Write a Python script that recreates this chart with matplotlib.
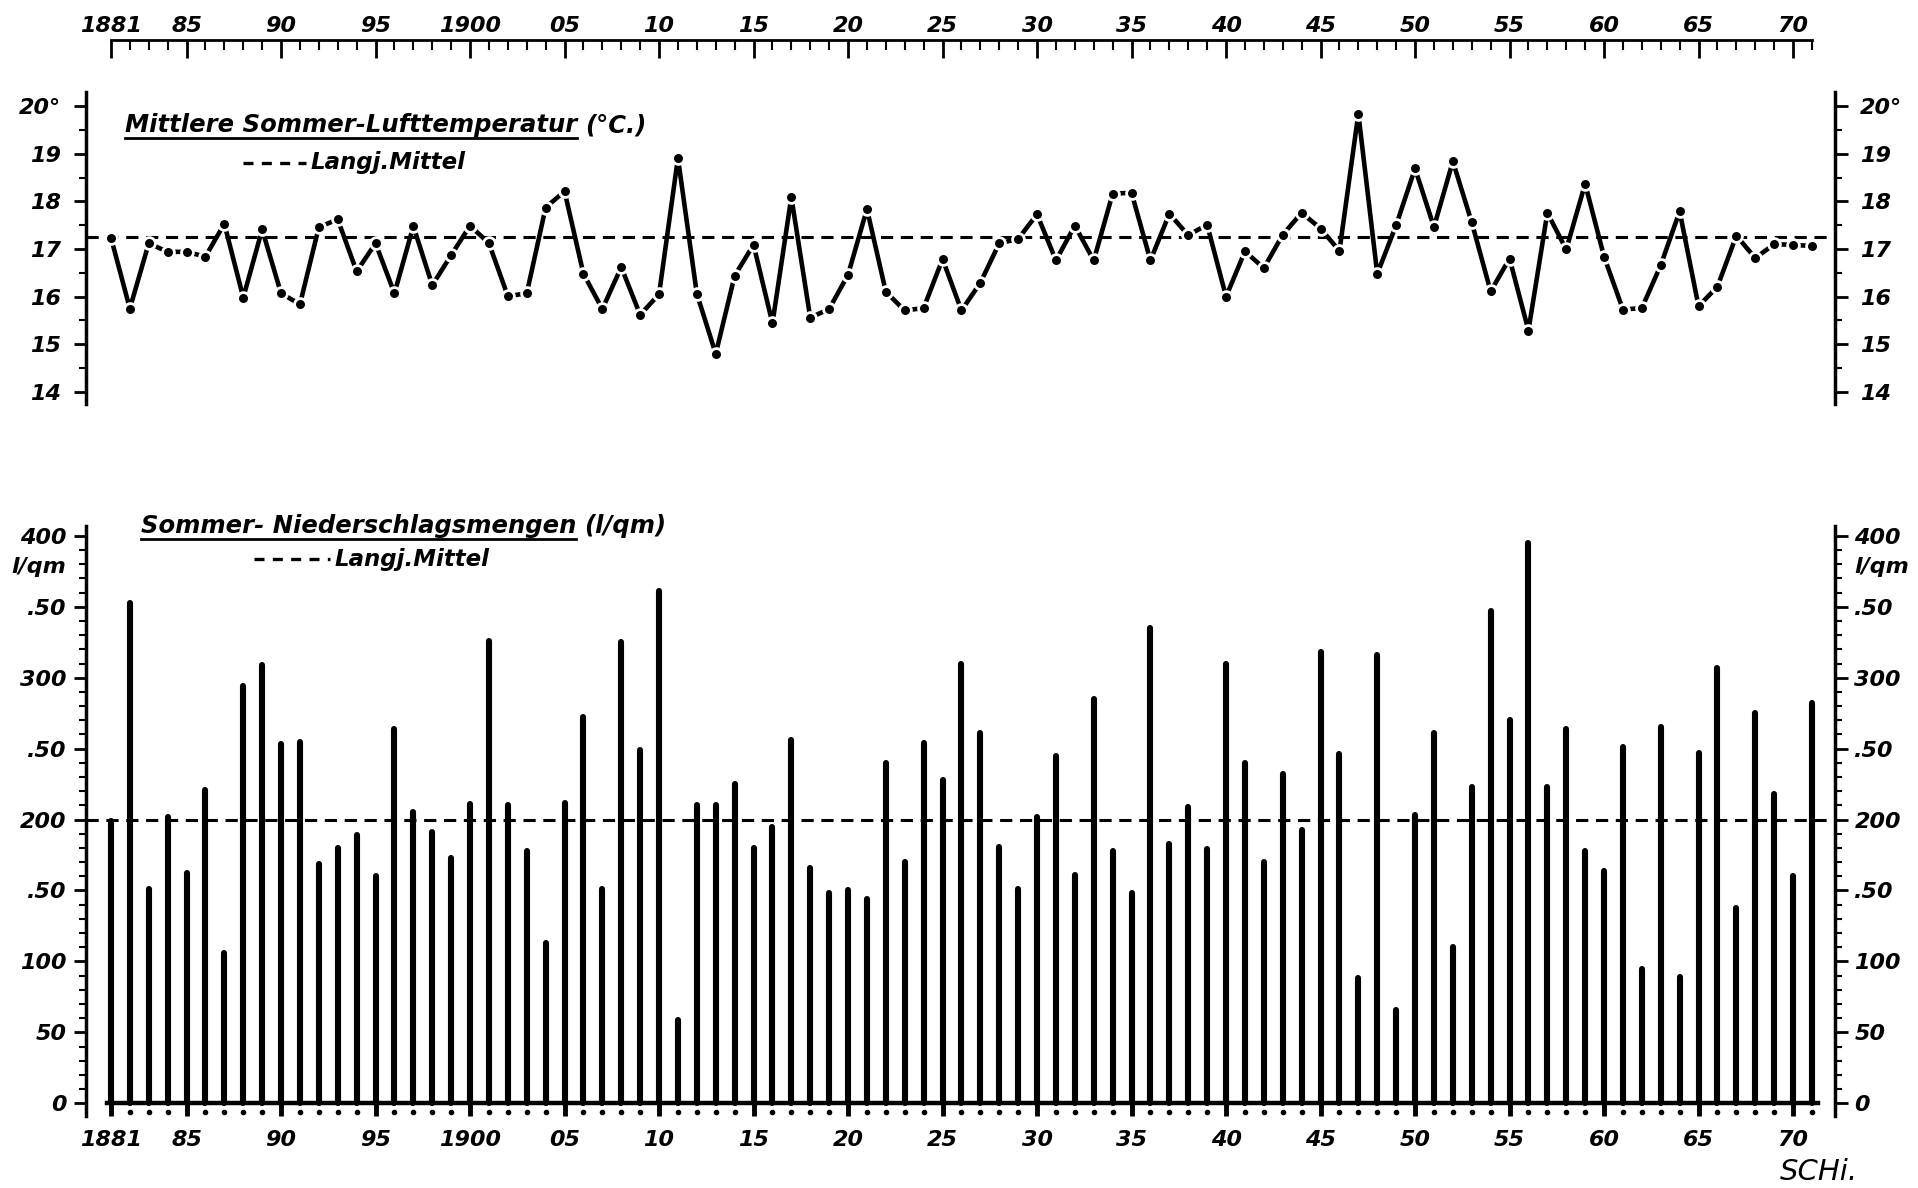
import numpy as np
import matplotlib.pyplot as plt
from matplotlib.lines import Line2D

# ---------------------------------------------------
# DATA
# ---------------------------------------------------

years = np.arange(1881, 1972)

temperature = [
    17.24, 15.75, 17.12, 16.94, 16.94, 16.84, 17.53, 15.98, 17.41, 16.07,
    15.84, 17.46, 17.62, 16.53, 17.12, 16.07, 17.48, 16.24, 16.87, 17.49,
    17.12, 16.01, 16.07, 17.87, 18.21, 16.48, 15.74, 16.62, 15.62, 16.05,
    18.91, 16.06, 14.80, 16.44, 17.09, 15.44, 18.09, 15.56, 15.74, 16.46,
    17.84, 16.10, 15.71, 15.76, 16.79, 15.71, 16.29, 17.12, 17.21, 17.73,
    16.76, 17.49, 16.76, 18.16, 18.18, 16.76, 17.74, 17.29, 17.51, 16.00,
    16.95, 16.60, 17.30, 17.76, 17.43, 16.96, 19.84, 16.48, 17.50, 18.69,
    17.46, 18.84, 17.56, 16.11, 16.80, 15.29, 17.76, 16.99, 18.37, 16.84,
    15.73, 15.76, 16.66, 17.79, 15.80, 16.21, 17.28, 16.81, 17.10, 17.09,
    17.06,
]

precipitation = [
    199, 353, 151, 202, 162, 221, 106, 294, 309, 253,
    255, 169, 180, 189, 160, 264, 205, 191, 173, 211,
    326, 210, 178, 113, 212, 272, 151, 325, 249, 361,
    59, 210, 210, 225, 180, 195, 256, 166, 148, 150,
    144, 240, 170, 254, 228, 310, 261, 181, 151, 202,
    245, 161, 285, 178, 148, 335, 183, 209, 179, 310,
    240, 170, 232, 193, 318, 246, 88, 316, 66, 203,
    261, 110, 223, 347, 270, 395, 223, 264, 178, 164,
    251, 95, 265, 89, 247, 307, 138, 275, 218, 160,
    282,
]

temp_mean = 17.25
precip_mean = 200

label_years = [1881, 1885, 1890, 1895, 1900, 1905, 1910, 1915, 1920, 1925,
               1930, 1935, 1940, 1945, 1950, 1955, 1960, 1965, 1970]
year_labels = ["1881", "85", "90", "95", "1900", "05", "10", "15", "20", "25",
               "30", "35", "40", "45", "50", "55", "60", "65", "70"]

temp_ticks = [14, 15, 16, 17, 18, 19, 20]
temp_labels = ["14", "15", "16", "17", "18", "19", "20°"]

precip_ticks = [0, 50, 100, 150, 200, 250, 300, 350, 400]
precip_labels = ["0", "50", "100", ".50", "200", ".50", "300", ".50", "400"]

# ---------------------------------------------------
# LAYOUT HELPERS
# ---------------------------------------------------

W, H = 1918, 1188
X_LEFT, X_RIGHT = 1879.68, 1972.22

plt.rcParams["font.family"] = "DejaVu Sans"
FONT = dict(style="italic", weight="bold")
TICK_SIZE = 16


def box(left, top, right, bottom):
    return [left / W, 1 - bottom / H, (right - left) / W, (bottom - top) / H]


fig = plt.figure(figsize=(W / 100, H / 100), dpi=100)

# ---------------------------------------------------
# TOP YEAR SCALE
# ---------------------------------------------------

ax_top = fig.add_axes(box(86, 40, 1835, 70))
ax_top.set_xlim(X_LEFT, X_RIGHT)
ax_top.set_ylim(0, 1)
for side in ["left", "right", "bottom"]:
    ax_top.spines[side].set_visible(False)
ax_top.spines["top"].set_bounds(1881, 1971)
ax_top.spines["top"].set_linewidth(2)
ax_top.xaxis.tick_top()
ax_top.set_xticks(label_years, year_labels)
ax_top.set_xticks(years, minor=True)
ax_top.set_yticks([])
ax_top.tick_params(axis="x", which="major", direction="in", length=13,
                   width=2, pad=3, labelsize=TICK_SIZE)
ax_top.tick_params(axis="x", which="minor", direction="in", length=7,
                   width=1.5)
for lab in ax_top.get_xticklabels():
    lab.set(**FONT)
ax_top.patch.set_alpha(0)

# ---------------------------------------------------
# TEMPERATURE PANEL
# ---------------------------------------------------

ax_t = fig.add_axes(box(86, 92, 1835, 404))
ax_t.set_xlim(X_LEFT, X_RIGHT)
ax_t.set_ylim(13.748, 20.294)

ax_t.axhline(temp_mean, color="black", linewidth=2.2, linestyle=(0, (4, 2.5)))

ax_t.plot(
    years,
    temperature,
    color="black",
    linewidth=3.3,
    marker="o",
    markersize=8.5,
    markerfacecolor="black",
    markeredgecolor="white",
    markeredgewidth=2,
)

ax_t.spines["top"].set_visible(False)
ax_t.spines["bottom"].set_visible(False)
ax_t.spines["left"].set_linewidth(2.5)
ax_t.spines["right"].set_linewidth(2.5)
ax_t.set_xticks([])
ax_t.set_yticks(temp_ticks, temp_labels)
ax_t.set_yticks(np.arange(14, 20.5, 0.5), minor=True)
ax_t.tick_params(axis="y", which="both", left=True, right=True,
                 labelleft=True, labelright=True, direction="out")
ax_t.tick_params(axis="y", which="major", length=9, width=2,
                 labelsize=TICK_SIZE)
ax_t.tick_params(axis="y", which="minor", length=5, width=1.5)
for tick in ax_t.yaxis.get_major_ticks():
    tick.label1.set(**FONT)
    tick.label2.set(**FONT)
    tick.set_pad(9)
ax_t.patch.set_alpha(0)

# ---------------------------------------------------
# PRECIPITATION PANEL
# ---------------------------------------------------

ax_p = fig.add_axes(box(86, 526, 1835, 1116))
ax_p.set_xlim(X_LEFT, X_RIGHT)
ax_p.set_ylim(-9, 407)

bars = ax_p.vlines(years, 0, precipitation, colors="black", linewidth=4.4)
bars.set_capstyle("round")

ax_p.axhline(precip_mean, color="black", linewidth=2.2,
             linestyle=(0, (4, 2.5)))

dot_years = [y for y in years if y not in label_years]
ax_p.plot(dot_years, [-6] * len(dot_years), "o", color="black", markersize=3)

ax_p.spines["top"].set_visible(False)
ax_p.spines["bottom"].set_position(("data", 0))
ax_p.spines["bottom"].set_bounds(1880.8, 1971.3)
ax_p.spines["bottom"].set_linewidth(3.2)
ax_p.spines["left"].set_linewidth(2.5)
ax_p.spines["right"].set_linewidth(2.5)

ax_p.set_xticks(label_years, year_labels)
ax_p.tick_params(axis="x", which="major", direction="out", length=9,
                 width=3.5, pad=10, labelsize=TICK_SIZE)
for lab in ax_p.get_xticklabels():
    lab.set(**FONT)

ax_p.set_yticks(precip_ticks, precip_labels)
ax_p.set_yticks(np.arange(0, 410, 10), minor=True)
ax_p.tick_params(axis="y", which="both", left=True, right=True,
                 labelleft=True, labelright=True, direction="out")
ax_p.tick_params(axis="y", which="major", length=9, width=2,
                 labelsize=TICK_SIZE)
ax_p.tick_params(axis="y", which="minor", length=5, width=1.5)
for tick in ax_p.yaxis.get_major_ticks():
    tick.label1.set(**FONT)
    tick.label2.set(**FONT)
    tick.set_pad(5)
ax_p.patch.set_alpha(0)

# unit label under the 400 mark on both sides
ax_p.annotate("l/qm", xy=(0, 378), xycoords=("axes fraction", "data"),
              xytext=(-14, 0), textcoords="offset points", ha="right",
              va="center", fontsize=TICK_SIZE, **FONT)
ax_p.annotate("l/qm", xy=(1, 378), xycoords=("axes fraction", "data"),
              xytext=(14, 0), textcoords="offset points", ha="left",
              va="center", fontsize=TICK_SIZE, **FONT)

# ---------------------------------------------------
# TITLES AND LEGEND TEXT
# ---------------------------------------------------

fig.canvas.draw()


def title(x, y, main, rest, size):
    t = fig.text(x / W, 1 - y / H, main, ha="left", va="center",
                 fontsize=size, **FONT)
    fig.canvas.draw()
    bb = t.get_window_extent()
    fig.text((bb.x1 + 8) / W, 1 - y / H, rest, ha="left", va="center",
             fontsize=size, **FONT)
    fig.add_artist(Line2D([bb.x0 / W, bb.x1 / W], [(bb.y0 - 1) / H] * 2,
                          transform=fig.transFigure, color="black",
                          linewidth=2))


def mean_note(x0, x1, y, size):
    fig.add_artist(Line2D([x0 / W, x1 / W], [1 - y / H] * 2,
                          transform=fig.transFigure, color="black",
                          linewidth=2.4, linestyle=(0, (3, 2.5))))
    fig.text((x1 + 5) / W, 1 - y / H, "Langj.Mittel", ha="left",
             va="center", fontsize=size, **FONT)


title(125, 125, "Mittlere Sommer-Lufttemperatur", "(°C.)", 17.5)
mean_note(243, 306, 163, 16.5)

title(141, 526, "Sommer- Niederschlagsmengen", "(l/qm)", 17.5)
mean_note(254, 330, 559, 16.5)

fig.text(1780 / W, 1 - 1172 / H, "SCHi.", ha="left", va="center",
         fontsize=21, style="italic")

plt.savefig("out.png", dpi=100)
